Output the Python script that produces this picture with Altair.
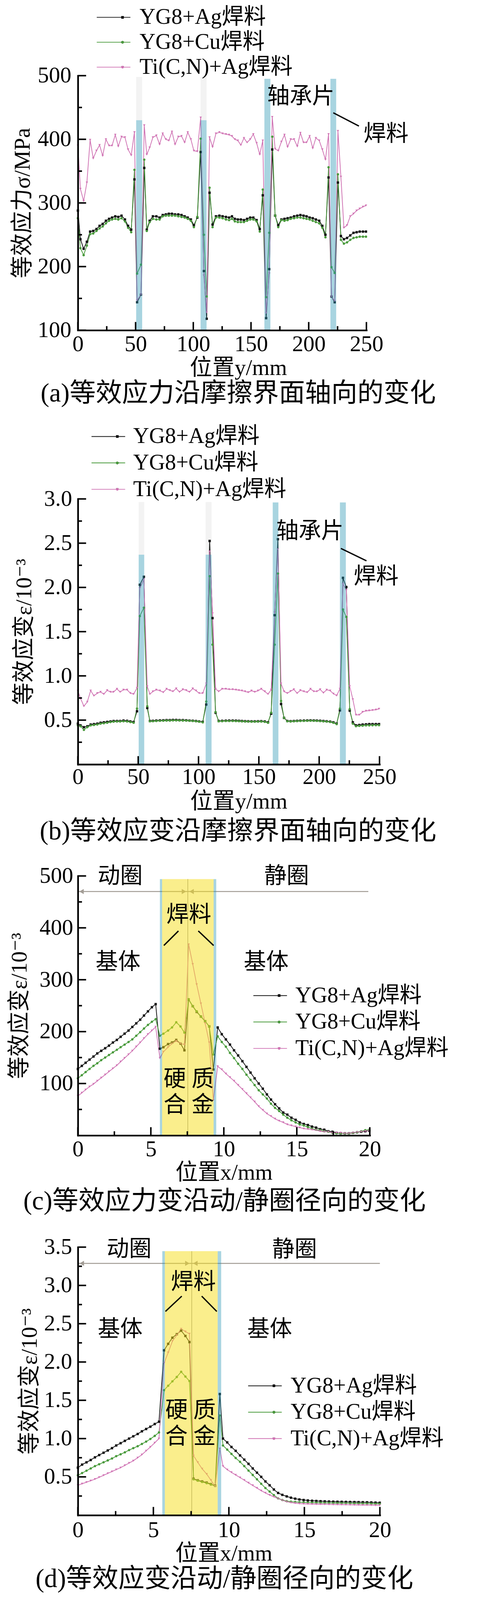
import altair as alt
import pandas as pd

FONT = "'Liberation Serif', 'DejaVu Serif', 'Noto Sans CJK SC', serif"
SERIES = ["YG8+Ag焊料", "YG8+Cu焊料", "Ti(C,N)+Ag焊料"]
COLORS = ["#141414", "#4a9b3d", "#d074b4"]
SHAPES = ["square", "circle", "triangle-down"]

# the page is photographed slightly enlarged; all pixel sizes below are scaled by K
K = 0.957


def px(v):
    return round(v * K, 2)


# ---------------- panel (a) / (b): along the friction interface ----------------
AB_X = [0, 2.2, 5.0, 7.8, 10.6, 13.3, 16.1, 18.8, 21.5, 24.3,
        27.0, 29.6, 32.4, 35.0, 37.8, 40.8, 43.5, 46.2, 49.0, 51.3,
        54.7, 57.5, 59.7, 62.2, 65.0, 68.0, 70.8, 73.5, 76.2, 78.8,
        81.5, 84.2, 87.0, 89.8, 92.5, 95.2, 97.9, 100.5, 103.5, 106.4,
        109.2, 111.6, 114.1, 116.7, 119.6, 122.6, 125.4, 128.3, 131.0, 133.5,
        136.0, 138.6, 141.2, 143.9, 146.6, 149.3, 152.0, 154.9, 157.6, 160.2,
        163.1, 165.8, 168.4, 170.9, 173.6, 176.3, 179.0, 181.7, 184.4, 187.3,
        190.1, 192.8, 195.5, 198.1, 200.8, 203.5, 206.2, 209.1, 211.8, 214.5,
        217.2, 219.7, 222.5, 225.3, 227.9, 230.5, 233.2, 236.0, 238.8, 241.5,
        244.2, 247.0, 249.6]

A_AG = [288, 243, 228, 239, 255, 256, 259, 264, 267, 272,
        275, 277, 279, 278, 280, 274, 264, 258, 337, 144,
        156, 355, 258, 272, 279, 279, 277, 281, 282, 283,
        283, 282, 282, 281, 279, 277, 274, 265, 277, 380,
        193, 118, 316, 266, 279, 280, 279, 278, 277, 279,
        275, 274, 274, 273, 275, 277, 277, 273, 259, 312,
        119, 196, 384, 280, 265, 274, 275, 276, 277, 279,
        280, 281, 280, 279, 277, 276, 274, 272, 264, 250,
        340, 153, 144, 332, 248, 243, 245, 249, 253, 254,
        255, 255, 255]
A_CU = [276, 229, 218, 233, 251, 252, 256, 260, 263, 268,
        272, 274, 275, 274, 276, 271, 261, 254, 352, 189,
        203, 368, 256, 270, 275, 274, 274, 279, 280, 280,
        280, 280, 279, 278, 277, 275, 272, 262, 278, 401,
        250, 153, 324, 262, 277, 277, 276, 274, 273, 275,
        271, 270, 270, 270, 272, 274, 274, 271, 255, 321,
        152, 253, 404, 280, 262, 273, 272, 273, 275, 276,
        277, 277, 276, 275, 274, 272, 270, 268, 261, 246,
        356, 199, 190, 345, 242, 236, 238, 242, 245, 246,
        247, 247, 247]
A_TI = [390, 322, 303, 332, 399, 370, 382, 391, 374, 400,
        390, 390, 407, 389, 404, 403, 384, 375, 411, 147,
        156, 422, 376, 387, 403, 406, 392, 409, 400, 398,
        412, 392, 404, 405, 395, 411, 400, 382, 381, 434,
        186, 128, 403, 388, 409, 411, 409, 408, 407, 405,
        400, 398, 391, 402, 395, 400, 408, 394, 376, 398,
        127, 189, 435, 385, 382, 396, 407, 388, 400, 400,
        389, 410, 395, 395, 405, 386, 402, 398, 384, 368,
        408, 153, 146, 413, 341, 261, 265, 279, 283, 288,
        291, 294, 296]

B_AG = [0.46, 0.44, 0.42, 0.43, 0.45, 0.455, 0.46, 0.47, 0.475, 0.48,
        0.485, 0.49, 0.49, 0.49, 0.495, 0.492, 0.485, 0.478, 0.60, 2.03,
        2.12, 0.637, 0.49, 0.492, 0.495, 0.497, 0.498, 0.50, 0.50, 0.502,
        0.502, 0.50, 0.50, 0.498, 0.495, 0.493, 0.49, 0.485, 0.48, 0.676,
        2.525, 1.653, 0.584, 0.49, 0.492, 0.494, 0.495, 0.495, 0.494, 0.492,
        0.49, 0.488, 0.487, 0.486, 0.486, 0.487, 0.488, 0.485, 0.475, 0.573,
        1.686, 2.545, 0.682, 0.525, 0.49, 0.488, 0.49, 0.492, 0.494, 0.495,
        0.496, 0.497, 0.496, 0.495, 0.493, 0.49, 0.487, 0.483, 0.475, 0.46,
        0.61, 2.108, 2.004, 0.608, 0.475, 0.441, 0.445, 0.45, 0.452, 0.455,
        0.455, 0.455, 0.455]
B_CU = [0.44, 0.43, 0.39, 0.42, 0.44, 0.445, 0.45, 0.46, 0.465, 0.47,
        0.478, 0.482, 0.484, 0.485, 0.487, 0.485, 0.478, 0.47, 0.63, 1.676,
        1.77, 0.657, 0.487, 0.488, 0.49, 0.492, 0.493, 0.495, 0.495, 0.497,
        0.497, 0.496, 0.495, 0.494, 0.492, 0.49, 0.487, 0.482, 0.475, 0.71,
        2.127, 1.353, 0.59, 0.487, 0.488, 0.49, 0.49, 0.49, 0.489, 0.488,
        0.486, 0.484, 0.483, 0.482, 0.482, 0.483, 0.484, 0.48, 0.47, 0.584,
        1.353, 2.157, 0.716, 0.525, 0.487, 0.485, 0.487, 0.489, 0.49, 0.491,
        0.492, 0.493, 0.492, 0.491, 0.489, 0.486, 0.483, 0.479, 0.47, 0.455,
        0.63, 1.75, 1.667, 0.624, 0.46, 0.431, 0.435, 0.437, 0.44, 0.44,
        0.442, 0.443, 0.443]
B_TI = [0.83, 0.745, 0.657, 0.706, 0.833, 0.775, 0.804, 0.818, 0.794, 0.837,
        0.818, 0.818, 0.853, 0.818, 0.843, 0.843, 0.804, 0.794, 0.863, 1.99,
        2.09, 0.88, 0.794, 0.824, 0.843, 0.833, 0.814, 0.853, 0.837, 0.824,
        0.857, 0.818, 0.847, 0.837, 0.818, 0.857, 0.833, 0.804, 0.804, 0.912,
        2.406, 1.706, 0.853, 0.824, 0.853, 0.853, 0.847, 0.847, 0.843, 0.837,
        0.833, 0.824, 0.814, 0.833, 0.818, 0.833, 0.853, 0.824, 0.794, 0.843,
        1.716, 2.43, 0.912, 0.824, 0.804, 0.827, 0.847, 0.804, 0.837, 0.824,
        0.814, 0.853, 0.824, 0.824, 0.847, 0.808, 0.843, 0.833, 0.798, 0.778,
        0.853, 2.04, 1.97, 0.882, 0.735, 0.559, 0.559, 0.592, 0.604, 0.608,
        0.612, 0.618, 0.627]

# bearing-piece bands (blue) and the light cap above the first two
A_BAND_X0 = [50.5, 106.3, 161.6, 218.8]
A_BAND_X1 = [55.7, 111.5, 166.8, 223.8]
A_BAND_Y0 = [100, 100, 100, 100]
A_BAND_Y1 = [430, 430, 495, 495]
A_CAP_Y1 = [498, 498]
B_BAND_X0 = [50.4, 105.9, 161.5, 217.2]
B_BAND_X1 = [55.0, 110.8, 166.2, 222.1]
B_BAND_Y0 = [0, 0, 0, 0]
B_BAND_Y1 = [2.37, 2.37, 2.96, 2.96]
B_CAP_Y1 = [2.965, 2.965]

A_NOTE_X = [193.2, 267.0]
A_NOTE_Y = [466.6, 407.6]
B_NOTE_X = [192.3, 247.2]
B_NOTE_Y = [2.63, 2.12]
AB_NOTE = ["轴承片", "焊料"]
A_LEAD = [221.3, 441.6, 243.5, 420.8]
B_LEAD = [218.0, 2.44, 239.2, 2.30]

# ---------------- panel (c) / (d): radial direction ----------------
C_X = [0, 0.27, 0.53, 0.8, 1.07, 1.33, 1.6, 1.87, 2.13, 2.4, 2.67, 2.93, 3.2, 3.47, 3.73,
       4.0, 4.27, 4.53, 4.8, 5.07, 5.33,
       5.62, 5.86, 6.18, 6.45, 6.74, 7.03, 7.30, 7.59, 7.87, 8.14, 8.43, 8.72, 9.0, 9.28,
       9.58, 9.86, 10.14, 10.42, 10.70, 10.98, 11.27, 11.55, 11.83, 12.11, 12.39, 12.67,
       12.95, 13.23, 13.51, 13.79, 14.07, 14.35, 14.63, 14.92, 15.20, 15.48, 15.76, 16.04,
       16.32, 16.60, 16.88, 17.16, 17.44, 17.72, 18.00, 18.29, 18.57, 18.85, 19.13, 19.41,
       19.69, 19.97]
C_AG = [128, 134, 140, 146, 152, 158, 163, 168, 173, 179, 184, 190, 196, 202, 209,
        216, 223, 231, 239, 247, 253,
        167, 170, 176, 179, 184, 177, 164, 262, 249, 238, 229, 220, 210, 127,
        208, 195, 185, 175, 164, 154, 143, 132, 121, 110, 100, 90, 79, 69, 60, 52, 44, 40,
        34, 30, 25, 22, 20, 17, 15, 12, 11, 8, 7, 5, 4, 4, 4, 5, 6, 7, 8, 9]
C_CU = [110, 116, 122, 128, 134, 139, 145, 150, 155, 160, 165, 170, 175, 180, 185,
        192, 199, 206, 213, 219, 224,
        192, 196, 202, 208, 218, 210, 198, 262, 249, 239, 229, 220, 210, 156,
        191, 180, 171, 159, 149, 138, 128, 117, 107, 97, 87, 79, 71, 61, 53, 47, 40, 34,
        29, 25, 21, 19, 16, 13, 11, 10, 8, 7, 5, 4, 4, 4, 4, 5, 6, 8, 10, 11]
C_TI = [76, 82, 88, 94, 99, 105, 111, 117, 123, 129, 135, 142, 149, 156, 163,
        171, 179, 187, 195, 202, 209,
        149, 161, 170, 177, 182, 177, 175, 368, 330, 291, 254, 216, 179, 68,
        133, 127, 119, 112, 105, 97, 89, 81, 73, 65, 56, 49, 42, 37, 32, 28, 25, 21,
        19, 17, 15, 13, 12, 11, 10, 8, 7, 7, 5, 5, 5, 4, 4, 5, 6, 7, 8, 9]

D_X = [0, 0.28, 0.57, 0.85, 1.13, 1.41, 1.70, 1.98, 2.26, 2.54, 2.83, 3.11, 3.39, 3.67,
       3.96, 4.24, 4.52, 4.80, 5.09, 5.37,
       5.71, 5.98, 6.26, 6.55, 6.84, 7.12, 7.39, 7.66, 7.94, 8.23, 8.53, 8.81, 9.09, 9.40,
       9.61, 9.89, 10.17, 10.45, 10.74, 11.02, 11.30, 11.58, 11.86, 12.14, 12.42, 12.70,
       12.98, 13.26, 13.54, 13.83, 14.11, 14.39, 14.67, 14.95, 15.23, 15.51, 15.79, 16.07,
       16.35, 16.63, 16.91, 17.19, 17.47, 17.75, 18.03, 18.31, 18.59, 18.87, 19.15, 19.43,
       19.71, 19.99]
D_AG = [0.62, 0.66, 0.69, 0.72, 0.755, 0.785, 0.815, 0.845, 0.875, 0.91, 0.94, 0.97, 1.0,
        1.03, 1.06, 1.095, 1.125, 1.155, 1.19, 1.22,
        2.153, 2.237, 2.317, 2.363, 2.409, 2.34, 2.26, 0.475, 0.455, 0.44, 0.425, 0.405,
        0.385, 1.582,
        1.00, 0.95, 0.89, 0.84, 0.78, 0.725, 0.67, 0.61, 0.555, 0.50, 0.44, 0.39, 0.335,
        0.29, 0.265, 0.245, 0.228, 0.215, 0.205, 0.198, 0.192, 0.188, 0.185, 0.182, 0.18,
        0.178, 0.176, 0.175, 0.174, 0.173, 0.172, 0.171, 0.17, 0.169, 0.168, 0.166, 0.164,
        0.162]
D_CU = [0.52, 0.55, 0.58, 0.61, 0.64, 0.665, 0.69, 0.715, 0.74, 0.77, 0.795, 0.82, 0.85,
        0.875, 0.90, 0.93, 0.96, 0.995, 1.035, 1.08,
        1.632, 1.69, 1.747, 1.804, 1.872, 1.81, 1.751, 0.468, 0.45, 0.434, 0.418, 0.40,
        0.381, 1.301,
        0.91, 0.856, 0.80, 0.746, 0.696, 0.64, 0.582, 0.525, 0.468, 0.41, 0.354, 0.308,
        0.262, 0.22, 0.198, 0.183, 0.176, 0.172, 0.169, 0.167, 0.165, 0.163, 0.162, 0.161,
        0.16, 0.159, 0.158, 0.157, 0.156, 0.155, 0.154, 0.153, 0.152, 0.151, 0.15, 0.149,
        0.148, 0.147]
D_TI = [0.39, 0.41, 0.43, 0.45, 0.47, 0.495, 0.52, 0.545, 0.57, 0.595, 0.62, 0.65, 0.68,
        0.71, 0.75, 0.79, 0.84, 0.89, 0.945, 1.0,
        1.986, 2.123, 2.272, 2.352, 2.432, 2.397, 2.368, 0.776, 0.69, 0.605, 0.537, 0.457,
        0.377, 0.868,
        0.64, 0.594, 0.559, 0.525, 0.491, 0.457, 0.422, 0.388, 0.354, 0.32, 0.29, 0.262,
        0.24, 0.217, 0.194, 0.176, 0.164, 0.156, 0.151, 0.148, 0.146, 0.144, 0.143, 0.142,
        0.141, 0.14, 0.139, 0.138, 0.137, 0.136, 0.135, 0.134, 0.133, 0.132, 0.131, 0.13,
        0.129, 0.128]

# solder (yellow) zone, thin blue bearing strips, centre line, ring arrow
C_YEL = [5.77, 9.30, 0, 494]
C_STRIP_X0 = [5.62, 9.30]
C_STRIP_X1 = [5.77, 9.48]
C_STRIP_Y = [0, 494]
C_MID = [7.53, 0, 494]
C_ARROW = [0, 19.9, 470]
C_HEAD_LEFT = [0.25, 7.79]
C_HEAD_RIGHT = [7.27]
D_YEL = [5.76, 9.26, 0, 3.447]
D_STRIP_X0 = [5.59, 9.26]
D_STRIP_X1 = [5.76, 9.49]
D_STRIP_Y = [0, 3.447]
D_MID = [7.54, 0, 3.447]
D_ARROW = [0, 20.0, 3.288]
D_HEAD_LEFT = [0.26, 7.78]
D_HEAD_RIGHT = [7.25]

CD_NOTE = ["动圈", "静圈", "焊料", "基体", "基体", "硬 质", "合 金"]
C_NOTE_X = [2.9, 14.3, 7.6, 2.75, 12.9, 7.6, 7.6]
C_NOTE_Y = [499, 499, 424, 333, 333, 107, 58]
D_NOTE_X = [3.39, 14.35, 7.65, 2.8, 12.7, 7.46, 7.46]
D_NOTE_Y = [3.466, 3.46, 3.04, 2.42, 2.42, 1.36, 1.02]
C_LEADS = [[5.89, 366, 6.89, 394], [8.25, 394, 9.30, 366]]
D_LEADS = [[5.80, 2.66, 6.88, 2.86], [8.20, 2.86, 9.20, 2.66]]

# axis ticks (major carry labels)
AB_XMAJ = [0, 50, 100, 150, 200, 250]
AB_XMIN = [25, 75, 125, 175, 225]
A_YMAJ = [100, 200, 300, 400, 500]
A_YMIN = [150, 250, 350, 450]
B_YMAJ = [0.5, 1.0, 1.5, 2.0, 2.5, 3.0]
B_YMIN = [0.25, 0.75, 1.25, 1.75, 2.25, 2.75]
CD_XMAJ = [0, 5, 10, 15, 20]
CD_XMIN = [2.5, 7.5, 12.5, 17.5]
C_YMAJ = [100, 200, 300, 400, 500]
C_YMIN = [50, 150, 250, 350, 450]
D_YMAJ = [0.5, 1.0, 1.5, 2.0, 2.5, 3.0, 3.5]
D_YMIN = [0.25, 0.75, 1.25, 1.75, 2.25, 2.75, 3.25]

CAPTIONS = ["(a)等效应力沿摩擦界面轴向的变化", "(b)等效应变沿摩擦界面轴向的变化",
            "(c)等效应力变沿动/静圈径向的变化", "(d)等效应变沿动/静圈径向的变化"]

BLUE = "#2593b1"
YELLOW = "#f5dd19"
ARROW_GRAY = "#a39d96"
MAJ_LEN, MIN_LEN, TICK_W = px(22), px(11), px(4)
FS = px(60)
LEG_FS = px(59)
CAP_FS = px(70)


def series_df(xs, ag, cu, ti):
    rows = []
    for name, ys in zip(SERIES, [ag, cu, ti]):
        for x, y in zip(xs, ys):
            rows.append({"x": x, "y": y, "s": name, "m": name})
    return pd.DataFrame(rows)


def make_axis(values, fmt, title, label_pad, title_pad, title_x=None):
    kw = dict(values=values, title=title, format=fmt, ticks=False,
              domainWidth=px(4.5), domainColor="black", domainCap="square",
              labelPadding=px(label_pad), titlePadding=px(title_pad),
              labelFont=FONT, labelFontSize=FS, labelColor="black",
              titleFont=FONT, titleFontSize=FS, titleFontWeight="normal", titleColor="black",
              grid=False, labelOverlap=False, labelFlush=False, zindex=1)
    if title_x is not None:
        kw["titleX"] = px(title_x)
    return alt.Axis(**kw)


class Ctx:
    def __init__(self, xs, ys, xa, ya):
        self.xs, self.ys, self.xa, self.ya = xs, ys, xa, ya

    def X(self, field):
        return alt.X(field, scale=self.xs, axis=self.xa)

    def Y(self, field):
        return alt.Y(field, scale=self.ys, axis=self.ya)


def panel(df, xdom, ydom, xaxis, yaxis, w, h, leg, under, over, ticks, caption, cap_dx, cap_off):
    lx, ly, loff, rpad = leg
    common = dict(orient="none", title=None, direction="vertical", labelFont=FONT,
                  labelFontSize=LEG_FS, labelColor="black", labelLimit=1000,
                  rowPadding=px(rpad), padding=0, labelOffset=px(loff), clipHeight=px(60))
    line_leg = alt.Legend(legendX=px(lx), legendY=px(ly), symbolType="stroke",
                          symbolSize=round(px(90) ** 2, 1), symbolStrokeWidth=px(2), **common)
    mark_leg = alt.Legend(legendX=px(lx + 41), legendY=px(ly), symbolSize=round(50 * K * K, 1),
                          labelExpr="' '", **common)
    c = Ctx(alt.Scale(domain=xdom, nice=False, zero=False),
            alt.Scale(domain=ydom, nice=False, zero=False), xaxis, yaxis)
    line = alt.Chart(df).mark_line(strokeWidth=px(2)).encode(
        x=c.X("x:Q"), y=c.Y("y:Q"),
        stroke=alt.Stroke("s:N", scale=alt.Scale(domain=SERIES, range=COLORS), legend=line_leg),
    )
    pts = alt.Chart(df).mark_point(filled=True, size=round(40 * K * K, 1), opacity=1).encode(
        x=c.X("x:Q"), y=c.Y("y:Q"),
        fill=alt.Fill("m:N", sort=SERIES, scale=alt.Scale(range=COLORS), legend=mark_leg),
        shape=alt.Shape("m:N", sort=SERIES, scale=alt.Scale(range=SHAPES), legend=mark_leg),
    )
    xmaj, xmin, ymaj, ymin = ticks
    tick_layers = [
        xticks(xmaj, ydom[0], MAJ_LEN), xticks(xmin, ydom[0], MIN_LEN),
        yticks(ymaj, xdom[0], MAJ_LEN), yticks(ymin, xdom[0], MIN_LEN),
    ]
    layers = ([f(c) for f in under] + [line, pts] + [f(c) for f in over]
              + [f(c) for f in tick_layers])
    return alt.layer(*layers).properties(
        width=px(w), height=px(h),
        title=alt.TitleParams(text=caption, orient="bottom", anchor="middle", frame="group",
                              font=FONT, fontSize=CAP_FS, fontWeight="normal", color="black",
                              offset=px(cap_off), dx=px(cap_dx)))


def xticks(values, base, length):
    def f(c):
        d = pd.DataFrame({"x": values, "y": [base] * len(values)})
        return alt.Chart(d).mark_tick(orient="vertical", size=length, thickness=TICK_W,
                                      yOffset=-length / 2, color="black", opacity=1).encode(
            x=c.X("x:Q"), y=c.Y("y:Q"))
    return f


def yticks(values, base, length):
    def f(c):
        d = pd.DataFrame({"y": values, "x": [base] * len(values)})
        return alt.Chart(d).mark_tick(orient="horizontal", size=length, thickness=TICK_W,
                                      xOffset=length / 2, color="black", opacity=1).encode(
            y=c.Y("y:Q"), x=c.X("x:Q"))
    return f


def rects(x0, x1, y0, y1, color, opacity):
    def f(c):
        d = pd.DataFrame({"x": x0, "x1": x1, "y": y0, "y1": y1})
        return alt.Chart(d).mark_rect(color=color, opacity=opacity).encode(
            x=c.X("x:Q"), x2="x1:Q", y=c.Y("y:Q"), y2="y1:Q")
    return f


def notes(nx, ny, texts):
    def f(c):
        d = pd.DataFrame({"x": nx, "y": ny, "t": texts})
        return alt.Chart(d).mark_text(font=FONT, fontSize=FS, color="black",
                                      align="center", baseline="middle").encode(
            x=c.X("x:Q"), y=c.Y("y:Q"), text="t:N")
    return f


def segs(lst, color, width):
    def f(c):
        d = pd.DataFrame({"x": [s[0] for s in lst], "y": [s[1] for s in lst],
                          "x1": [s[2] for s in lst], "y1": [s[3] for s in lst]})
        return alt.Chart(d).mark_rule(color=color, strokeWidth=px(width)).encode(
            x=c.X("x:Q"), y=c.Y("y:Q"), x2="x1:Q", y2="y1:Q")
    return f


def heads(hx, hy, shape):
    def f(c):
        d = pd.DataFrame({"x": hx, "y": [hy] * len(hx)})
        return alt.Chart(d).mark_point(filled=True, size=round(190 * K * K, 1), opacity=1,
                                       color=ARROW_GRAY, shape=shape).encode(
            x=c.X("x:Q"), y=c.Y("y:Q"))
    return f


# (a)
chart_a = panel(
    series_df(AB_X, A_AG, A_CU, A_TI), [0, 250], [100, 500],
    make_axis(AB_XMAJ, "d", "位置y/mm", 8, 5, title_x=429),
    make_axis(A_YMAJ, "d", "等效应力σ/MPa", 18, 9),
    772, 681, (49, -186, 23, 6),
    [rects(A_BAND_X0[:2], A_BAND_X1[:2], A_BAND_Y1[:2], A_CAP_Y1, "#f3f3f3", 1)],
    [rects(A_BAND_X0, A_BAND_X1, A_BAND_Y0, A_BAND_Y1, BLUE, 0.4),
     notes(A_NOTE_X, A_NOTE_Y, AB_NOTE),
     segs([A_LEAD], "black", 3.5)],
    (AB_XMAJ, AB_XMIN, A_YMAJ, A_YMIN),
    CAPTIONS[0], 43, 4)

# (b)
chart_b = panel(
    series_df(AB_X, B_AG, B_CU, B_TI), [0, 250], [0, 3.0],
    make_axis(AB_XMAJ, "d", "位置y/mm", 5, 7, title_x=430),
    make_axis(B_YMAJ, ".1f", "等效应变ε/10⁻³", 16, 22),
    807, 710, (35, -197, 20, 10),
    [rects(B_BAND_X0[:2], B_BAND_X1[:2], B_BAND_Y1[:2], B_CAP_Y1, "#f3f3f3", 1)],
    [rects(B_BAND_X0, B_BAND_X1, B_BAND_Y0, B_BAND_Y1, BLUE, 0.4),
     notes(B_NOTE_X, B_NOTE_Y, AB_NOTE),
     segs([B_LEAD], "black", 3.5)],
    (AB_XMAJ, AB_XMIN, B_YMAJ, B_YMIN),
    CAPTIONS[1], 25, 16)

# (c)
chart_c = panel(
    series_df(C_X, C_AG, C_CU, C_TI), [0, 20], [0, 500],
    make_axis(CD_XMAJ, "d", "位置x/mm", 8, 4),
    make_axis(C_YMAJ, "d", "等效应变ε/10⁻³", 13, 22),
    781, 694, (468, 290, 21, 10),
    [segs([[C_MID[0], C_MID[1], C_MID[0], C_MID[2]]], "#8c8c8c", 1.5),
     segs([[C_ARROW[0], C_ARROW[2], C_ARROW[1], C_ARROW[2]]], ARROW_GRAY, 2.5),
     heads(C_HEAD_LEFT, C_ARROW[2], "triangle-left"),
     heads(C_HEAD_RIGHT, C_ARROW[2], "triangle-right")],
    [rects([C_YEL[0]], [C_YEL[1]], [C_YEL[2]], [C_YEL[3]], YELLOW, 0.5),
     rects(C_STRIP_X0, C_STRIP_X1, [C_STRIP_Y[0]] * 2, [C_STRIP_Y[1]] * 2, BLUE, 0.4),
     notes(C_NOTE_X, C_NOTE_Y, CD_NOTE),
     segs(C_LEADS, "black", 3.5)],
    (CD_XMAJ, CD_XMIN, C_YMAJ, C_YMIN),
    CAPTIONS[2], 2, 13)

# (d)
chart_d = panel(
    series_df(D_X, D_AG, D_CU, D_TI), [0, 20], [0, 3.5],
    make_axis(CD_XMAJ, "d", "位置x/mm", 11, 4, title_x=390),
    make_axis(D_YMAJ, ".1f", "等效应变ε/10⁻³", 16, 7),
    808, 717, (454, 341, 22, 10),
    [segs([[D_MID[0], D_MID[1], D_MID[0], D_MID[2]]], "#8c8c8c", 1.5),
     segs([[D_ARROW[0], D_ARROW[2], D_ARROW[1], D_ARROW[2]]], ARROW_GRAY, 2.5),
     heads(D_HEAD_LEFT, D_ARROW[2], "triangle-left"),
     heads(D_HEAD_RIGHT, D_ARROW[2], "triangle-right")],
    [rects([D_YEL[0]], [D_YEL[1]], [D_YEL[2]], [D_YEL[3]], YELLOW, 0.5),
     rects(D_STRIP_X0, D_STRIP_X1, [D_STRIP_Y[0]] * 2, [D_STRIP_Y[1]] * 2, BLUE, 0.4),
     notes(D_NOTE_X, D_NOTE_Y, CD_NOTE),
     segs(D_LEADS, "black", 3.5)],
    (CD_XMAJ, CD_XMIN, D_YMAJ, D_YMIN),
    CAPTIONS[3], -12, 4)

inner = alt.vconcat(chart_b, chart_c, chart_d, spacing=px(298), bounds="flush").resolve_scale(
    stroke="independent", fill="independent", shape="independent").resolve_legend(
    stroke="independent", fill="independent", shape="independent")

chart = alt.vconcat(chart_a, inner, spacing=px(451), bounds="flush").resolve_scale(
    stroke="independent", fill="independent", shape="independent").resolve_legend(
    stroke="independent", fill="independent", shape="independent").properties(
    padding={"top": px(8), "left": px(14), "right": 0, "bottom": 0},
    background="white").configure_view(strokeWidth=0)

chart.save("out.html", embed_options={"renderer": "svg", "actions": False})
